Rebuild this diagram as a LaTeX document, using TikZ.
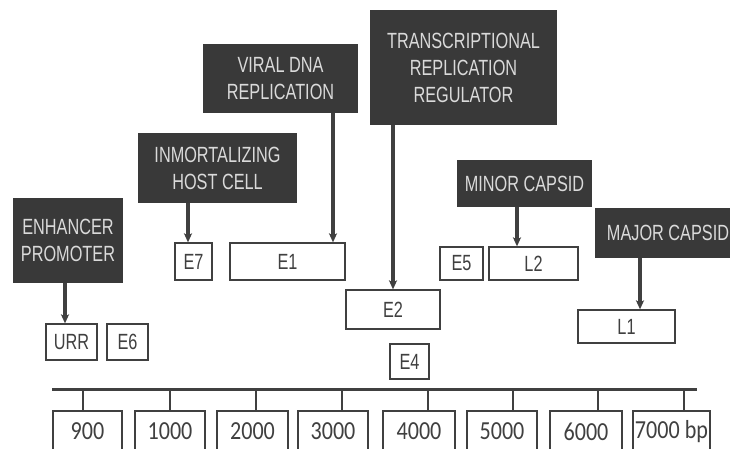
\documentclass[tikz,border=0pt]{standalone}
\usepackage{fontspec}
\usetikzlibrary{arrows.meta}
\newfontfamily\labfont[FakeStretch=0.74]{Liberation Sans}
\newfontfamily\numfont[FakeStretch=0.85]{Carlito}
\definecolor{darkbox}{HTML}{393939}
\definecolor{boxtext}{HTML}{DADADA}
\definecolor{edge}{HTML}{404040}
\tikzset{
  funcbox/.style={rectangle, fill=darkbox, draw=none, text=boxtext, align=center,
    font=\labfont\fontsize{22}{27}\selectfont, inner sep=0pt},
  genebox/.style={rectangle, draw=edge, line width=1.3pt, fill=white, text=edge,
    font=\labfont\fontsize{22}{27}\selectfont, inner sep=0pt},
  bpbox/.style={rectangle, draw=edge, line width=1.3pt, fill=white, text=edge,
    font=\numfont\fontsize{26}{30}\selectfont, inner sep=0pt, minimum height=41pt},
  arr/.style={draw=edge, line width=3.5pt, -{Stealth[length=9pt,width=8pt,inset=2pt]}, shorten >=0pt},
  axisline/.style={draw=edge, line width=3pt},
  tick/.style={draw=edge, line width=1.5pt}
}
\begin{document}
\begin{tikzpicture}[x=1pt,y=-1pt]
\useasboundingbox (0,0) rectangle (730,448);
\clip (0,0) rectangle (730,448);
\fill[white] (0,0) rectangle (730,448);

% functions
\node[funcbox, minimum width=110pt, minimum height=85pt] (enh) at (68,240.5) {ENHANCER\\PROMOTER};
\node[funcbox, minimum width=159pt, minimum height=70pt] (imm) at (217.5,168) {INMORTALIZING\\HOST CELL};
\node[funcbox, minimum width=155pt, minimum height=69pt] (vir) at (280.5,78.5) {VIRAL DNA\\REPLICATION};
\node[funcbox, minimum width=187pt, minimum height=115pt] (trn) at (463.5,67.5) {TRANSCRIPTIONAL\\REPLICATION\\REGULATOR};
\node[funcbox, minimum width=135pt, minimum height=47pt] (mnc) at (524.5,183.5) {MINOR CAPSID};
\node[funcbox, minimum width=146pt, minimum height=50pt] (mjc) at (668,233) {MAJOR CAPSID};

% genes
\node[genebox, minimum width=51pt, minimum height=36pt] (urr) at (71.5,342) {URR};
\node[genebox, minimum width=41pt, minimum height=36pt] (e6) at (127.5,342) {E6};
\node[genebox, minimum width=37pt, minimum height=37pt] (e7) at (193.5,261.5) {E7};
\node[genebox, minimum width=115pt, minimum height=37pt] (e1) at (287.5,261.5) {E1};
\node[genebox, minimum width=94pt, minimum height=39pt] (e2) at (393,309.5) {E2};
\node[genebox, minimum width=39pt, minimum height=35pt] (e4) at (409.5,361.5) {E4};
\node[genebox, minimum width=43pt, minimum height=33pt] (e5) at (461.5,263.5) {E5};
\node[genebox, minimum width=89pt, minimum height=33pt] (l2) at (533.5,263.5) {L2};
\node[genebox, minimum width=97pt, minimum height=33pt] (l1) at (626.5,326.5) {L1};

% function arrows
\draw[arr] (enh.south -| 65,0) -- (urr.north -| 65,0);
\draw[arr] (imm.south -| 188,0) -- (e7.north -| 188,0);
\draw[arr] (vir.south -| 333,0) -- (e1.north -| 333,0);
\draw[arr] (trn.south -| 393,0) -- (e2.north -| 393,0);
\draw[arr] (mnc.south -| 517,0) -- (l2.north -| 517,0);
\draw[arr] (mjc.south -| 640,0) -- (l1.north -| 640,0);

% base-pair scale
\coordinate (axl) at (52,389);
\coordinate (axr) at (697,389);
\draw[axisline] (axl) -- (axr);

\node[bpbox, minimum width=69pt] (b900) at (87.5,431.5) {900};
\node[bpbox, minimum width=70pt] (b1000) at (170,431.5) {1000};
\node[bpbox, minimum width=71pt] (b2000) at (252.5,431.5) {2000};
\node[bpbox, minimum width=70pt] (b3000) at (333,431.5) {3000};
\node[bpbox, minimum width=72pt] (b4000) at (419,431.5) {4000};
\node[bpbox, minimum width=70pt] (b5000) at (502,431.5) {5000};
\node[bpbox, minimum width=72pt] (b6000) at (586,431.5) {6000};
\node[bpbox, minimum width=77pt] (b7000) at (671.5,431.5) {7000 bp};

\foreach \b/\x in {b900/83, b1000/170, b2000/256, b3000/342, b4000/428, b5000/513, b6000/598, b7000/684}
  \draw[tick] (axl -| \x,0) -- (\b.north -| \x,0);
\end{tikzpicture}
\end{document}
